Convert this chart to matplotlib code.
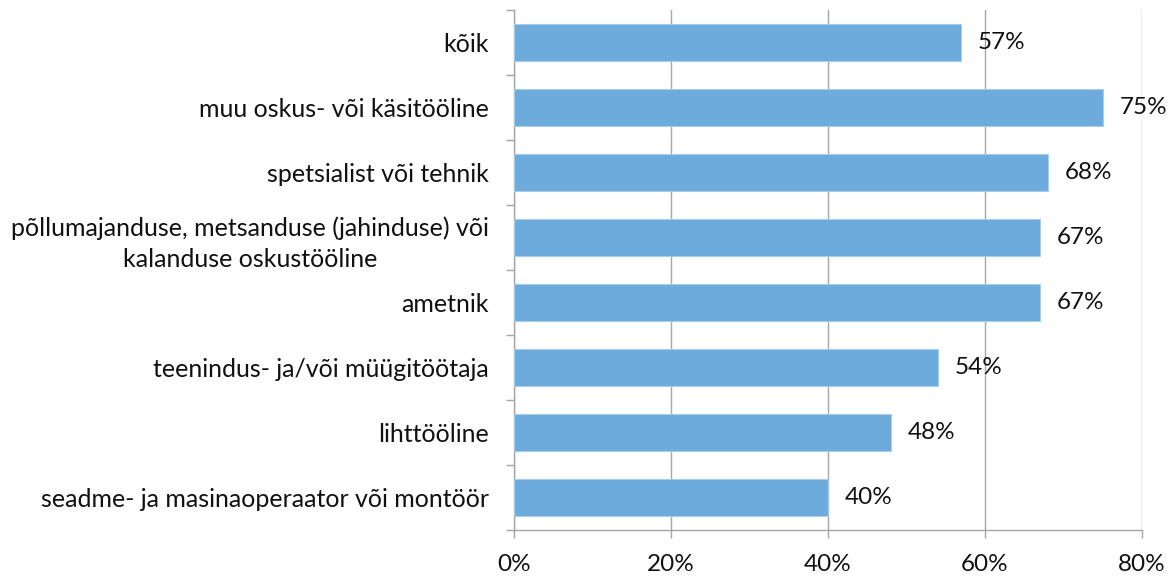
import matplotlib
matplotlib.use("Agg")
import matplotlib.pyplot as plt
from matplotlib.ticker import FixedLocator, PercentFormatter

categories = [
    "kõik",
    "muu oskus- või käsitööline",
    "spetsialist või tehnik",
    "põllumajanduse, metsanduse (jahinduse) või\nkalanduse oskustööline",
    "ametnik",
    "teenindus- ja/või müügitöötaja",
    "lihttööline",
    "seadme- ja masinaoperaator või montöör",
]
values = [57, 75, 68, 67, 67, 54, 48, 40]
x_ticks = [0, 20, 40, 60, 80]

plt.rcParams["font.family"] = ["Lato", "DejaVu Sans"]

fig = plt.figure(figsize=(11.7, 5.78), dpi=100)
ax = fig.add_axes([0.4393, 0.083, 0.5368, 0.8997])

bar_color = "#6CABDC"
grid_color = "#A6A6A6"
text_color = "#111111"

y = list(range(len(categories)))
ax.barh(y, values, height=0.56, color=bar_color, edgecolor="#A9CCEA",
        linewidth=0.8, zorder=3)

for yi, v in zip(y, values):
    ax.text(v + 2.1, yi, f"{v}%", va="center", ha="left", fontsize=17.5,
            color=text_color, zorder=4)

ax.set_xlim(0, 80)
ax.set_ylim(len(categories) - 0.5, -0.5)

ax.set_xticks(x_ticks)
ax.xaxis.set_major_formatter(PercentFormatter(decimals=0))
ax.set_yticks(y)
ax.set_yticklabels(categories, fontsize=18, color=text_color,
                   multialignment="center", linespacing=1.45)
ax.yaxis.set_minor_locator(FixedLocator([i - 0.5 for i in range(len(categories) + 1)]))

ax.tick_params(axis="y", which="major", length=0, pad=18)
ax.tick_params(axis="y", which="minor", length=6, color=grid_color, width=1)
ax.tick_params(axis="x", which="major", length=6, color=grid_color, width=1,
               labelsize=17.5, labelcolor=text_color, pad=11)

ax.grid(axis="x", color=grid_color, linewidth=1, zorder=0)
for side in ("top", "right"):
    ax.spines[side].set_visible(False)
for side in ("left", "bottom"):
    ax.spines[side].set_color(grid_color)
    ax.spines[side].set_linewidth(1)

fig.savefig("out.png", dpi=100)
